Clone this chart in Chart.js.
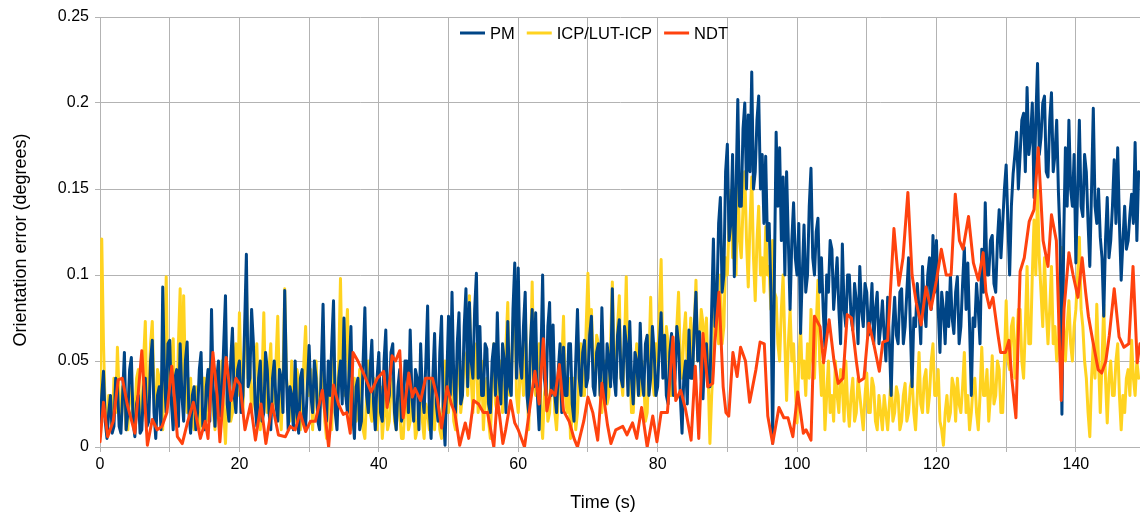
<!DOCTYPE html>
<html>
<head>
<meta charset="utf-8">
<script src="https://cdn.jsdelivr.net/npm/chart.js@4.4.1/dist/chart.umd.min.js"></script>
<style>
  html, body { margin: 0; padding: 0; background: #ffffff; }
  #wrap { width: 1140px; height: 513px; }
</style>
</head>
<body>
<div id="wrap"><canvas id="c" width="1140" height="513"></canvas></div>
<script>
// Sampling interval of the PM and ICP/LUT-ICP series (s)
const sampleStep = 0.25;

const pmValues = [
  0.01, 0.03, 0.044, 0.015, 0.005, 0.02, 0.03, 0.008, 0.012, 0.04, 0.035, 0.012, 0.008, 0.03, 0.055, 0.01, 0.02, 0.045, 0.052, 0.015,
  0.006, 0.025, 0.03, 0.008, 0.01, 0.035, 0.04, 0.012, 0.015, 0.05, 0.062, 0.02, 0.005, 0.03, 0.035, 0.01, 0.093, 0.04, 0.02, 0.06,
  0.062, 0.025, 0.01, 0.04, 0.045, 0.012, 0.06, 0.03, 0.015, 0.05, 0.061, 0.02, 0.008, 0.03, 0.035, 0.01, 0.02, 0.045, 0.055, 0.012,
  0.01, 0.035, 0.045, 0.015, 0.08, 0.03, 0.012, 0.04, 0.05, 0.018, 0.03, 0.06, 0.088, 0.025, 0.015, 0.05, 0.069, 0.03, 0.02, 0.045,
  0.05, 0.02, 0.03, 0.07, 0.112, 0.035, 0.04, 0.08, 0.061, 0.025, 0.012, 0.04, 0.05, 0.015, 0.02, 0.055, 0.045, 0.02, 0.01, 0.04,
  0.05, 0.025, 0.015, 0.045, 0.04, 0.02, 0.091, 0.04, 0.01, 0.035, 0.03, 0.01, 0.05, 0.02, 0.008, 0.04, 0.045, 0.015, 0.012, 0.035,
  0.059, 0.03, 0.02, 0.05, 0.04, 0.015, 0.01, 0.045, 0.083, 0.03, 0.015, 0.05, 0.03, 0.06, 0.085, 0.02, 0.01, 0.04, 0.05, 0.025,
  0.075, 0.03, 0.02, 0.045, 0.07, 0.02, 0.005, 0.035, 0.04, 0.01, 0.015, 0.05, 0.081, 0.03, 0.02, 0.045, 0.062, 0.025, 0.01, 0.04,
  0.055, 0.02, 0.015, 0.05, 0.068, 0.025, 0.03, 0.055, 0.06, 0.02, 0.01, 0.035, 0.045, 0.015, 0.02, 0.05, 0.05, 0.02, 0.068, 0.03,
  0.015, 0.045, 0.04, 0.01, 0.06, 0.03, 0.02, 0.05, 0.082, 0.02, 0.005, 0.04, 0.066, 0.025, 0.015, 0.055, 0.076, 0.02, 0.001, 0.04,
  0.076, 0.03, 0.09, 0.04, 0.02, 0.06, 0.078, 0.025, 0.03, 0.07, 0.092, 0.035, 0.084, 0.05, 0.04, 0.08, 0.101, 0.04, 0.07, 0.03,
  0.03, 0.06, 0.057, 0.025, 0.02, 0.05, 0.06, 0.03, 0.078, 0.04, 0.025, 0.06, 0.05, 0.02, 0.073, 0.035, 0.03, 0.08, 0.107, 0.04,
  0.104, 0.05, 0.04, 0.07, 0.09, 0.03, 0.02, 0.06, 0.08, 0.035, 0.078, 0.03, 0.01, 0.05, 0.1, 0.04, 0.03, 0.07, 0.084, 0.03,
  0.071, 0.03, 0.02, 0.045, 0.06, 0.02, 0.058, 0.03, 0.03, 0.06, 0.06, 0.025, 0.015, 0.05, 0.08, 0.04, 0.03, 0.055, 0.062, 0.035,
  0.04, 0.065, 0.076, 0.035, 0.03, 0.055, 0.06, 0.03, 0.081, 0.045, 0.025, 0.06, 0.05, 0.035, 0.092, 0.04, 0.03, 0.065, 0.074, 0.04,
  0.035, 0.07, 0.06, 0.03, 0.073, 0.04, 0.025, 0.055, 0.05, 0.03, 0.072, 0.04, 0.03, 0.06, 0.065, 0.03, 0.04, 0.07, 0.055, 0.03,
  0.035, 0.06, 0.078, 0.04, 0.065, 0.03, 0.025, 0.055, 0.066, 0.03, 0.04, 0.07, 0.06, 0.03, 0.008, 0.04, 0.05, 0.025, 0.068, 0.04,
  0.04, 0.07, 0.09, 0.05, 0.067, 0.04, 0.028, 0.055, 0.06, 0.035, 0.035, 0.08, 0.121, 0.07, 0.085, 0.13, 0.145, 0.09, 0.1, 0.16,
  0.176, 0.12, 0.13, 0.17, 0.099, 0.15, 0.202, 0.14, 0.14, 0.185, 0.2, 0.15, 0.193, 0.16, 0.218, 0.15, 0.16, 0.19, 0.204, 0.15,
  0.17, 0.13, 0.169, 0.12, 0.13, 0.09, 0.002, 0.1, 0.183, 0.14, 0.174, 0.12, 0.157, 0.1, 0.16, 0.12, 0.08, 0.12, 0.142, 0.11,
  0.1, 0.13, 0.066, 0.1, 0.129, 0.09, 0.1, 0.14, 0.162, 0.11, 0.1, 0.125, 0.133, 0.09, 0.11, 0.08, 0.058, 0.1, 0.09, 0.12,
  0.115, 0.08, 0.095, 0.11, 0.08, 0.06, 0.118, 0.08, 0.07, 0.1, 0.1, 0.075, 0.068, 0.095, 0.085, 0.06, 0.105, 0.08, 0.07, 0.095,
  0.09, 0.065, 0.075, 0.095, 0.06, 0.08, 0.09, 0.06, 0.07, 0.085, 0.065, 0.05, 0.087, 0.06, 0.03, 0.07, 0.087, 0.065, 0.06, 0.09,
  0.092, 0.06, 0.07, 0.09, 0.11, 0.07, 0.035, 0.075, 0.07, 0.095, 0.08, 0.06, 0.105, 0.08, 0.07, 0.1, 0.11, 0.08, 0.123, 0.09,
  0.12, 0.08, 0.055, 0.09, 0.08, 0.06, 0.09, 0.07, 0.1, 0.075, 0.066, 0.09, 0.099, 0.06, 0.07, 0.095, 0.116, 0.08, 0.107, 0.07,
  0.03, 0.075, 0.07, 0.095, 0.08, 0.06, 0.115, 0.09, 0.142, 0.1, 0.1, 0.12, 0.123, 0.095, 0.09, 0.12, 0.138, 0.11, 0.13, 0.15,
  0.164, 0.13, 0.1, 0.14, 0.159, 0.17, 0.183, 0.15, 0.17, 0.19, 0.194, 0.16, 0.209, 0.17, 0.18, 0.2, 0.145, 0.19, 0.223, 0.17,
  0.18, 0.2, 0.204, 0.16, 0.157, 0.19, 0.206, 0.16, 0.17, 0.19, 0.148, 0.12, 0.019, 0.12, 0.174, 0.14, 0.19, 0.15, 0.14, 0.17,
  0.107, 0.15, 0.19, 0.14, 0.134, 0.17, 0.16, 0.13, 0.105, 0.15, 0.197, 0.14, 0.13, 0.15, 0.122, 0.11, 0.076, 0.12, 0.145, 0.11,
  0.12, 0.14, 0.167, 0.13, 0.174, 0.13, 0.097, 0.12, 0.14, 0.115, 0.12, 0.135, 0.147, 0.13, 0.177, 0.12, 0.16
];

const icpValues = [
  0.02, 0.121, 0.06, 0.02, 0.01, 0.03, 0.02, 0.01, 0.04, 0.02, 0.058, 0.03, 0.015, 0.035, 0.03, 0.01, 0.01, 0.03, 0.035, 0.015,
  0.02, 0.04, 0.045, 0.02, 0.015, 0.05, 0.073, 0.02, 0.03, 0.06, 0.073, 0.03, 0.02, 0.045, 0.04, 0.015, 0.01, 0.05, 0.099, 0.03,
  0.03, 0.05, 0.063, 0.02, 0.015, 0.06, 0.092, 0.03, 0.088, 0.04, 0.02, 0.035, 0.04, 0.015, 0.01, 0.035, 0.03, 0.01, 0.015, 0.04,
  0.04, 0.015, 0.02, 0.045, 0.05, 0.02, 0.01, 0.035, 0.03, 0.015, 0.05, 0.02, 0.002, 0.03, 0.04, 0.015, 0.02, 0.05, 0.06, 0.03,
  0.078, 0.04, 0.02, 0.06, 0.095, 0.04, 0.05, 0.02, 0.03, 0.05, 0.06, 0.025, 0.01, 0.04, 0.078, 0.03, 0.02, 0.045, 0.06, 0.02,
  0.03, 0.05, 0.076, 0.03, 0.01, 0.04, 0.092, 0.04, 0.03, 0.015, 0.05, 0.02, 0.015, 0.045, 0.04, 0.01, 0.02, 0.05, 0.07, 0.03,
  0.03, 0.045, 0.01, 0.03, 0.05, 0.02, 0.02, 0.045, 0.04, 0.015, 0.005, 0.03, 0.03, 0.01, 0.06, 0.03, 0.02, 0.05, 0.098, 0.04,
  0.03, 0.06, 0.08, 0.03, 0.01, 0.035, 0.04, 0.015, 0.02, 0.045, 0.03, 0.01, 0.005, 0.03, 0.05, 0.02, 0.015, 0.04, 0.03, 0.01,
  0.02, 0.035, 0.005, 0.02, 0.03, 0.01, 0.015, 0.035, 0.04, 0.015, 0.01, 0.03, 0.02, 0.005, 0.005, 0.025, 0.03, 0.01, 0.015, 0.035,
  0.025, 0.005, 0.01, 0.03, 0.035, 0.015, 0.005, 0.025, 0.02, 0.01, 0.04, 0.02, 0.01, 0.035, 0.03, 0.01, 0.005, 0.03, 0.05, 0.02,
  0.02, 0.045, 0.04, 0.015, 0.01, 0.04, 0.06, 0.02, 0.03, 0.055, 0.05, 0.03, 0.088, 0.04, 0.02, 0.05, 0.06, 0.02, 0.03, 0.05,
  0.01, 0.03, 0.04, 0.015, 0.005, 0.035, 0.06, 0.025, 0.02, 0.045, 0.05, 0.02, 0.03, 0.06, 0.084, 0.03, 0.04, 0.07, 0.093, 0.03,
  0.02, 0.04, 0.05, 0.03, 0.08, 0.04, 0.01, 0.05, 0.096, 0.04, 0.03, 0.055, 0.06, 0.02, 0.005, 0.03, 0.04, 0.015, 0.02, 0.045,
  0.05, 0.02, 0.01, 0.03, 0.035, 0.05, 0.076, 0.03, 0.02, 0.04, 0.005, 0.02, 0.04, 0.01, 0.02, 0.045, 0.06, 0.03, 0.03, 0.07,
  0.101, 0.06, 0.08, 0.05, 0.04, 0.065, 0.06, 0.03, 0.02, 0.04, 0.05, 0.025, 0.03, 0.06, 0.096, 0.05, 0.04, 0.07, 0.088, 0.04,
  0.03, 0.06, 0.099, 0.04, 0.05, 0.02, 0.02, 0.045, 0.06, 0.03, 0.03, 0.05, 0.04, 0.015, 0.02, 0.05, 0.087, 0.04, 0.03, 0.06,
  0.05, 0.08, 0.109, 0.05, 0.04, 0.07, 0.06, 0.03, 0.03, 0.06, 0.05, 0.07, 0.09, 0.05, 0.04, 0.065, 0.078, 0.045, 0.05, 0.075,
  0.04, 0.07, 0.097, 0.05, 0.06, 0.08, 0.072, 0.05, 0.075, 0.04, 0.002, 0.03, 0.05, 0.09, 0.08, 0.06, 0.1, 0.06, 0.07, 0.11,
  0.1, 0.13, 0.149, 0.11, 0.13, 0.1, 0.165, 0.12, 0.11, 0.14, 0.16, 0.12, 0.093, 0.13, 0.157, 0.11, 0.085, 0.12, 0.14, 0.1,
  0.11, 0.09, 0.128, 0.1, 0.105, 0.08, 0.12, 0.09, 0.087, 0.06, 0.05, 0.08, 0.1, 0.06, 0.027, 0.06, 0.08, 0.05, 0.06, 0.035,
  0.014, 0.05, 0.07, 0.04, 0.05, 0.03, 0.06, 0.04, 0.08, 0.05, 0.04, 0.07, 0.097, 0.05, 0.03, 0.05, 0.01, 0.03, 0.05, 0.02,
  0.03, 0.015, 0.05, 0.03, 0.02, 0.045, 0.035, 0.015, 0.05, 0.025, 0.012, 0.03, 0.04, 0.015, 0.02, 0.04, 0.03, 0.02, 0.01, 0.03,
  0.043, 0.02, 0.02, 0.04, 0.035, 0.015, 0.01, 0.03, 0.02, 0.01, 0.03, 0.02, 0.01, 0.025, 0.04, 0.015, 0.02, 0.035, 0.03, 0.01,
  0.015, 0.03, 0.037, 0.015, 0.02, 0.035, 0.04, 0.02, 0.01, 0.03, 0.055, 0.025, 0.02, 0.04, 0.045, 0.02, 0.03, 0.05, 0.06, 0.03,
  0.03, 0.045, 0.015, 0.01, 0.001, 0.02, 0.03, 0.015, 0.02, 0.04, 0.035, 0.015, 0.04, 0.025, 0.02, 0.035, 0.055, 0.02, 0.03, 0.01,
  0.02, 0.035, 0.04, 0.02, 0.01, 0.03, 0.058, 0.03, 0.03, 0.045, 0.015, 0.03, 0.053, 0.025, 0.03, 0.05, 0.045, 0.02, 0.02, 0.05,
  0.085, 0.05, 0.045, 0.07, 0.075, 0.04, 0.06, 0.08, 0.08, 0.05, 0.04, 0.07, 0.105, 0.06, 0.06, 0.1, 0.132, 0.1, 0.149, 0.11,
  0.09, 0.07, 0.11, 0.08, 0.06, 0.08, 0.105, 0.06, 0.07, 0.05, 0.06, 0.09, 0.116, 0.07, 0.05, 0.07, 0.085, 0.06, 0.05, 0.07,
  0.08, 0.1, 0.122, 0.08, 0.07, 0.05, 0.04, 0.02, 0.006, 0.04, 0.06, 0.04, 0.083, 0.05, 0.02, 0.05, 0.083, 0.04, 0.014, 0.04,
  0.05, 0.03, 0.03, 0.05, 0.06, 0.03, 0.01, 0.03, 0.02, 0.04, 0.045, 0.03, 0.062, 0.04, 0.03, 0.05, 0.04
];

// NDT is sampled less regularly: its own time stamps (s)
const ndtTime = [
  0, 0.5, 1.1, 1.9, 2.6, 3.2, 3.9, 5, 6, 6.8, 7.5, 8.2, 8.9, 9.6, 10.3, 11.1, 11.8, 12.6, 13.4, 14.4,
  15.1, 15.5, 16.2, 16.8, 17.2, 18.1, 18.8, 19.5, 20.1, 20.8, 21.6, 22.3, 23.1, 23.8, 24.7, 25.6, 26.6, 27.3, 28, 28.7,
  29.5, 30.2, 30.9, 31.9, 32.8, 33.5, 34.2, 34.9, 35.4, 35.9, 36.3, 37, 38, 38.9, 39.8, 40.7, 41.2, 41.9, 42.4, 43,
  43.5, 44.3, 44.8, 45.2, 46, 46.7, 47.7, 48.4, 49, 49.8, 50.4, 50.9, 51.6, 52.4, 52.9, 53.6, 54.3, 55, 55.6, 56.5,
  57, 57.8, 58.2, 58.9, 59.5, 60, 60.9, 61.8, 62.4, 63, 63.6, 64.1, 64.7, 65.3, 65.9, 66.5, 67.3, 68, 68.5, 69.4,
  70, 70.7, 71.4, 72, 72.8, 73.3, 74, 75, 75.6, 76.4, 77, 77.7, 78.5, 79.3, 79.9, 80.5, 81.4, 82.2, 82.6, 83.3,
  84, 84.8, 85.4, 85.9, 86.5, 87.2, 87.9, 88.2, 88.8, 89.4, 89.8, 90.2, 90.8, 91.4, 91.9, 92.6, 93.2, 94.1, 94.7, 95.3,
  95.8, 96.5, 97.4, 98.1, 98.7, 99.4, 100.1, 100.9, 101.3, 102, 102.5, 103.3, 103.8, 104.6, 105.3, 105.9, 106.6, 107.2, 107.8, 108.5,
  108.9, 109.6, 110.3, 111, 111.8, 112.3, 113, 113.9, 114.6, 115.2, 115.9, 116.5, 117.1, 117.8, 118.5, 119.2, 120, 120.7, 121.4, 122.1,
  122.7, 123.3, 123.8, 124.6, 125.3, 126, 126.7, 127.1, 127.6, 128.1, 128.8, 129.2, 129.9, 130.4, 130.8, 131.4, 132, 132.6, 133.3, 134,
  134.6, 135.3, 136, 136.5, 137.2, 137.9, 138.3, 139, 139.6, 140.3, 140.9, 141.4, 141.8, 142.5, 143.2, 143.7, 144.3, 144.8, 145.5, 146.2,
  146.9, 147.6, 148.2, 148.8, 149.2
];
const ndtValues = [
  0.003, 0.026, 0.006, 0.015, 0.039, 0.04, 0.025, 0.008, 0.056, 0.001, 0.016, 0.01, 0.012, 0.02, 0.047, 0.006, 0.002, 0.015, 0.026, 0.005,
  0.015, 0.005, 0.055, 0.03, 0.003, 0.052, 0.027, 0.04, 0.036, 0.01, 0.025, 0.004, 0.025, 0.002, 0.025, 0.007, 0.006, 0.012, 0.01, 0.02,
  0.009, 0.015, 0.015, 0.033, 0.0, 0.036, 0.025, 0.019, 0.02, 0.008, 0.055, 0.05, 0.041, 0.032, 0.04, 0.044, 0.023, 0.053, 0.05, 0.056,
  0.017, 0.043, 0.029, 0.034, 0.027, 0.04, 0.04, 0.028, 0.011, 0.035, 0.025, 0.02, 0.001, 0.014, 0.005, 0.027, 0.025, 0.02, 0.02, 0.0,
  0.029, 0.002, 0.01, 0.027, 0.014, 0.01, 0.0, 0.027, 0.044, 0.025, 0.063, 0.021, 0.033, 0.03, 0.048, 0.021, 0.015, 0.005, 0.0, 0.015,
  0.029, 0.02, 0.004, 0.037, 0.013, 0.002, 0.01, 0.012, 0.007, 0.014, 0.005, 0.023, 0.0, 0.018, 0.003, 0.02, 0.02, 0.064, 0.027, 0.033,
  0.022, 0.004, 0.047, 0.005, 0.066, 0.035, 0.037, 0.06, 0.09, 0.035, 0.02, 0.018, 0.055, 0.041, 0.058, 0.05, 0.026, 0.045, 0.061, 0.06,
  0.018, 0.002, 0.023, 0.017, 0.017, 0.006, 0.032, 0.008, 0.01, 0.004, 0.076, 0.07, 0.049, 0.074, 0.05, 0.037, 0.04, 0.077, 0.075, 0.05,
  0.038, 0.04, 0.072, 0.06, 0.044, 0.061, 0.062, 0.127, 0.094, 0.11, 0.148, 0.1, 0.084, 0.071, 0.093, 0.08, 0.097, 0.115, 0.1, 0.1,
  0.147, 0.12, 0.115, 0.134, 0.107, 0.097, 0.113, 0.09, 0.081, 0.087, 0.066, 0.055, 0.055, 0.062, 0.04, 0.017, 0.102, 0.11, 0.131, 0.138,
  0.174, 0.12, 0.105, 0.135, 0.12, 0.027, 0.08, 0.113, 0.1, 0.087, 0.11, 0.09, 0.076, 0.06, 0.045, 0.043, 0.05, 0.065, 0.092, 0.064,
  0.058, 0.06, 0.105, 0.049, 0.06
];

const seriesNames = ['PM', 'ICP/LUT-ICP', 'NDT'];
const seriesColors = ['#004586', '#ffd320', '#ff420e'];
const xTitle = 'Time (s)';
const yTitle = 'Orientation error (degrees)';
const xTickStep = 10;
const yTicks = [0, 0.05, 0.1, 0.15, 0.2, 0.25];

const toPoints = (times, values) => values.map((v, i) => ({ x: times[i], y: v }));
const pmTime = pmValues.map((_, i) => i * sampleStep);
const icpTime = icpValues.map((_, i) => i * sampleStep);

const FONT = '"Liberation Sans", Arial, sans-serif';

// Legend drawn inside the plot area in one row, plus the two axis titles
const annotations = {
  id: 'annotations',
  afterDraw(chart) {
    const ctx = chart.ctx;
    ctx.save();
    ctx.font = '16.5px ' + FONT;
    ctx.textBaseline = 'middle';
    ctx.textAlign = 'left';
    let x = 460;
    const y = 33;
    chart.data.datasets.forEach((ds) => {
      ctx.strokeStyle = ds.borderColor;
      ctx.lineWidth = 3;
      ctx.beginPath();
      ctx.moveTo(x, y);
      ctx.lineTo(x + 25, y);
      ctx.stroke();
      ctx.fillStyle = '#000000';
      ctx.fillText(ds.label, x + 30, y + 1);
      x += 30 + ctx.measureText(ds.label).width + 12;
    });

    ctx.font = '18px ' + FONT;
    ctx.fillStyle = '#000000';
    ctx.textAlign = 'center';
    ctx.fillText(xTitle, 603, 503);
    ctx.translate(21, 240);
    ctx.rotate(-Math.PI / 2);
    ctx.fillText(yTitle, 0, 0);
    ctx.restore();
  }
};

new Chart(document.getElementById('c'), {
  type: 'line',
  data: {
    datasets: [
      { label: seriesNames[0], data: toPoints(pmTime, pmValues), borderColor: seriesColors[0], backgroundColor: seriesColors[0], order: 1 },
      { label: seriesNames[1], data: toPoints(icpTime, icpValues), borderColor: seriesColors[1], backgroundColor: seriesColors[1], order: 2 },
      { label: seriesNames[2], data: toPoints(ndtTime, ndtValues), borderColor: seriesColors[2], backgroundColor: seriesColors[2], order: 0 }
    ]
  },
  plugins: [annotations],
  options: {
    responsive: false,
    animation: false,
    devicePixelRatio: 1,
    layout: { padding: { top: 17, right: 0, left: 0, bottom: 0 } },
    elements: {
      line: { borderWidth: 3, tension: 0, borderJoinStyle: 'round', borderCapStyle: 'round' },
      point: { radius: 0, hoverRadius: 0 }
    },
    plugins: {
      legend: { display: false },
      tooltip: { enabled: false }
    },
    scales: {
      x: {
        type: 'linear',
        min: 0,
        max: 149.2,
        afterFit: (s) => { s.height = 66; },
        ticks: {
          stepSize: xTickStep,
          autoSkip: false,
          maxRotation: 0,
          color: '#000000',
          font: { family: FONT, size: 16 },
          padding: 3,
          callback: (v) => (Math.round(v) % 20 === 0 ? String(Math.round(v)) : '')
        },
        afterBuildTicks: (s) => {
          const t = [];
          for (let v = 0; v <= s.max + 1e-9; v += xTickStep) t.push({ value: v });
          s.ticks = t;
        },
        grid: { color: '#b3b3b3', lineWidth: 1, tickLength: 5, drawTicks: true },
        border: { color: '#b3b3b3' },
        title: { display: false }
      },
      y: {
        min: 0,
        max: 0.25,
        afterFit: (s) => { s.width = 100; },
        afterBuildTicks: (s) => { s.ticks = yTicks.map(v => ({ value: v })); },
        ticks: {
          color: '#000000',
          font: { family: FONT, size: 16 },
          padding: 6,
          callback: (v) => String(Math.round(v * 100) / 100)
        },
        grid: { color: '#b3b3b3', lineWidth: 1, tickLength: 5 },
        border: { color: '#b3b3b3' },
        title: { display: false }
      }
    }
  }
});
</script>
</body>
</html>
